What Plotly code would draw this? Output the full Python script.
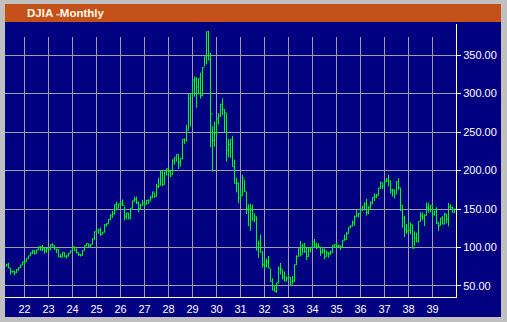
import plotly.graph_objects as go

# ---- data: DJIA monthly, April 1921 .. December 1939 ----
start_year = 1921
start_month = 4

highs = [
    # 1921 Apr-Dec
    78.9, 80.0, 73.5, 69.9, 69.9, 71.9, 73.9, 77.6, 81.5,
    # 1922
    82.9, 85.8, 89.1, 93.5, 96.4, 96.4, 96.9, 100.8, 102.0, 103.4, 99.5, 99.2,
    # 1923
    99.4, 103.9, 105.4, 102.9, 98.2, 97.7, 91.7, 93.7, 93.6, 90.4, 92.9, 95.5,
    # 1924
    100.7, 101.3, 98.9, 93.6, 91.4, 96.5, 102.6, 105.6, 105.0, 104.1, 111.4, 120.5,
    # 1925
    123.6, 122.9, 125.7, 120.0, 130.0, 131.0, 136.5, 143.2, 147.7, 155.7, 159.4, 157.0,
    # 1926
    158.9, 162.3, 153.1, 144.8, 145.0, 151.1, 160.6, 166.1, 166.1, 159.7, 156.6, 161.9,
    # 1927
    158.4, 161.9, 162.8, 167.4, 172.6, 171.0, 182.6, 190.6, 199.8, 199.8, 198.2, 202.4,
    # 1928
    203.4, 199.4, 214.5, 216.9, 220.9, 220.9, 216.0, 240.4, 241.7, 259.2, 299.4, 300.0,
    # 1929
    317.5, 322.1, 321.2, 319.3, 327.1, 333.8, 347.7, 380.3, 381.2, 352.9, 257.7, 263.5,
    # 1930
    267.1, 274.6, 286.1, 294.1, 279.9, 274.4, 240.6, 240.4, 245.1, 214.2, 190.6, 184.3,
    # 1931
    175.7, 194.4, 187.7, 172.4, 156.2, 156.9, 155.3, 144.2, 140.1, 108.9, 116.8, 94.8,
    # 1932
    85.9, 85.8, 89.0, 72.2, 60.0, 51.0, 54.3, 75.2, 79.9, 71.2, 68.9, 62.2,
    # 1933
    64.0, 61.6, 62.9, 77.7, 90.0, 98.9, 108.7, 105.1, 105.8, 100.0, 99.0, 101.0,
    # 1934
    108.2, 111.0, 106.3, 105.2, 100.7, 99.0, 99.0, 96.0, 94.0, 96.0, 103.0, 104.0,
    # 1935
    106.7, 103.3, 102.0, 109.5, 116.8, 120.0, 126.2, 128.9, 134.9, 141.5, 149.4, 145.0,
    # 1936
    149.5, 154.4, 158.8, 163.1, 153.3, 160.0, 164.9, 170.1, 169.7, 177.4, 185.5, 184.3,
    # 1937
    187.8, 190.3, 194.4, 187.0, 176.0, 175.0, 185.5, 190.0, 177.4, 154.6, 141.2, 130.6,
    # 1938
    134.9, 132.4, 129.6, 121.0, 119.3, 133.9, 146.3, 145.6, 143.1, 158.4, 158.1, 154.8,
    # 1939
    155.5, 147.3, 152.3, 133.3, 138.2, 140.9, 145.0, 144.0, 157.9, 155.9, 153.2, 150.2,
]

lows = [
    75.2, 73.4, 64.9, 67.3, 63.9, 66.8, 69.5, 73.4, 77.0,
    78.6, 81.7, 85.6, 88.9, 91.6, 90.7, 92.1, 96.1, 96.3, 96.1, 92.0, 93.0,
    96.0, 96.9, 101.0, 96.9, 92.8, 87.9, 86.9, 87.2, 87.9, 85.8, 88.4, 92.6,
    94.9, 96.0, 92.4, 88.9, 88.3, 89.2, 96.0, 101.5, 100.8, 99.2, 103.9, 110.0,
    119.5, 117.9, 115.0, 117.2, 119.5, 126.8, 130.0, 135.5, 138.5, 143.0, 148.2, 151.0,
    152.7, 154.0, 135.2, 136.4, 137.2, 137.2, 150.8, 159.0, 156.5, 145.7, 150.1, 154.2,
    152.7, 155.9, 156.4, 160.7, 164.2, 164.8, 166.1, 177.1, 180.4, 179.8, 181.7, 193.6,
    191.3, 191.3, 194.6, 207.9, 211.7, 201.9, 205.1, 214.4, 234.6, 237.4, 252.7, 257.3,
    296.0, 295.9, 281.5, 299.1, 293.4, 296.5, 335.2, 337.9, 343.5, 230.1, 198.7, 230.9,
    244.2, 259.8, 269.3, 272.2, 249.8, 211.8, 217.2, 216.3, 204.9, 183.4, 171.6, 157.5,
    161.5, 167.6, 172.4, 143.6, 128.5, 121.7, 135.4, 132.9, 96.6, 86.5, 93.9, 73.8,
    71.2, 74.0, 73.3, 55.9, 44.7, 42.8, 41.2, 53.2, 65.1, 58.5, 56.4, 56.2,
    59.2, 50.2, 52.5, 55.7, 77.3, 88.0, 88.4, 92.2, 93.0, 83.6, 88.1, 93.7,
    98.0, 99.7, 98.0, 99.0, 89.1, 92.1, 84.6, 88.0, 86.7, 90.0, 93.6, 99.6,
    99.5, 99.2, 96.7, 100.7, 108.7, 109.5, 118.1, 124.7, 127.2, 128.1, 139.7, 138.9,
    143.1, 147.4, 150.0, 141.5, 143.5, 150.2, 155.9, 160.5, 164.3, 167.7, 176.2, 175.9,
    179.2, 185.0, 179.3, 170.1, 166.2, 163.8, 169.7, 175.1, 147.3, 125.7, 113.6, 117.7,
    120.6, 117.1, 98.9, 102.0, 107.0, 106.4, 133.3, 135.4, 127.9, 141.6, 145.2, 145.4,
    136.1, 141.4, 130.6, 121.4, 128.5, 130.0, 130.0, 131.3, 127.5, 150.2, 145.7, 144.7,
]

closes = [
    77.6, 73.4, 68.5, 68.9, 67.1, 71.1, 73.9, 77.3, 81.1,
    81.3, 85.8, 89.1, 92.9, 96.4, 92.1, 96.8, 100.8, 96.6, 98.2, 95.8, 98.7,
    96.9, 103.9, 102.8, 98.0, 97.7, 87.9, 87.6, 93.5, 87.9, 88.7, 92.3, 95.5,
    100.7, 96.4, 93.3, 90.6, 89.9, 96.4, 102.6, 105.2, 103.0, 104.1, 111.4, 120.5,
    123.6, 122.9, 116.8, 120.0, 129.9, 131.0, 136.5, 141.2, 143.5, 155.7, 151.1, 156.7,
    157.0, 154.7, 140.5, 144.8, 137.2, 151.1, 160.6, 162.5, 158.2, 150.4, 154.6, 157.2,
    156.4, 161.1, 160.1, 164.6, 172.1, 166.2, 179.1, 180.8, 197.6, 181.7, 198.2, 202.4,
    198.6, 194.7, 213.5, 216.9, 220.9, 210.4, 216.0, 240.4, 239.4, 252.2, 293.4, 300.0,
    317.5, 317.4, 308.5, 319.3, 297.4, 333.8, 347.7, 380.3, 343.5, 273.5, 238.9, 248.5,
    267.1, 271.1, 286.1, 279.2, 275.1, 226.3, 233.9, 240.4, 204.9, 183.4, 183.4, 164.6,
    167.6, 189.7, 172.4, 151.2, 128.5, 150.2, 135.4, 139.4, 96.6, 105.4, 93.9, 77.9,
    76.2, 81.4, 73.3, 56.1, 44.7, 42.8, 54.3, 73.2, 71.6, 61.9, 56.4, 60.0,
    60.9, 51.4, 55.7, 77.7, 88.1, 98.1, 90.8, 102.4, 94.5, 88.2, 98.1, 99.9,
    107.2, 103.5, 101.9, 100.7, 93.8, 95.7, 88.1, 93.0, 92.6, 93.4, 102.9, 104.0,
    101.7, 102.7, 100.8, 109.5, 110.6, 118.2, 126.2, 127.9, 131.9, 139.7, 142.3, 144.1,
    149.5, 152.5, 156.3, 145.7, 152.6, 157.7, 164.9, 166.3, 167.8, 177.4, 184.0, 179.9,
    185.7, 187.2, 186.4, 174.3, 174.7, 169.3, 185.5, 177.4, 154.6, 138.6, 123.5, 121.0,
    121.9, 129.6, 98.9, 111.9, 107.7, 133.9, 141.2, 139.3, 141.5, 151.7, 149.8, 154.8,
    143.3, 147.3, 131.8, 128.5, 138.2, 130.6, 143.0, 136.6, 152.5, 151.9, 145.7, 150.2,
]

first_open = 76.0
opens = [first_open] + closes[:-1]   # each month opens at the prior month's close

year_ticks = list(range(1922, 1940))
year_labels = [str(y)[2:] for y in year_ticks]
price_ticks = [50, 100, 150, 200, 250, 300, 350]

# month positions on a fractional-year axis
xs = []
y, m = start_year, start_month
for _ in closes:
    xs.append(y + (m - 1) / 12.0)
    m += 1
    if m > 12:
        m = 1
        y += 1

# ---- layout geometry (pixels) ----
W, H = 507, 322
L, R, T, B = 5, 51, 24, 25
pw, ph = W - L - R, H - T - B
X0 = 1921.1875
X1 = X0 + pw / 24.0          # 24 px per year -> 2 px per month, bars on pixel centres

def px_x(px):
    return (px - L) / pw

def px_y(py):
    return (H - B - py) / ph

NAVY = "#000080"
GREEN = "#00ff00"
GRID = "#a0a0a0"
FRAME = "#c0c0c0"
TITLE_BG = "#c4501a"
FONT = "Liberation Sans, Arial, sans-serif"

fig = go.Figure()
fig.add_trace(go.Ohlc(
    x=xs, open=opens, high=highs, low=lows, close=closes,
    increasing=dict(line=dict(color=GREEN, width=1)),
    decreasing=dict(line=dict(color=GREEN, width=1)),
    tickwidth=0.5,
    hoverinfo="skip",
    showlegend=False,
))

shapes = [
    dict(type="rect", xref="paper", yref="paper", x0=px_x(5), x1=px_x(501),
         y0=px_y(317), y1=px_y(22), fillcolor=NAVY, line=dict(width=0), layer="below"),
    dict(type="rect", xref="paper", yref="paper", x0=px_x(5), x1=px_x(501),
         y0=px_y(22), y1=px_y(4), fillcolor=TITLE_BG, line=dict(width=0), layer="below"),
]
for yr in year_ticks:
    shapes.append(dict(type="line", xref="x", yref="paper", x0=yr, x1=yr,
                       y0=0, y1=px_y(37), line=dict(color=GRID, width=1), layer="below"))

fig.update_layout(
    width=W, height=H,
    margin=dict(l=L, r=R, t=T, b=B, pad=0),
    paper_bgcolor=FRAME,
    plot_bgcolor=NAVY,
    shapes=shapes,
    annotations=[dict(
        text="<b>DJIA -Monthly</b>", xref="paper", yref="paper",
        x=px_x(25), y=px_y(13.5), xanchor="left", yanchor="middle",
        showarrow=False, font=dict(family=FONT, size=11.5, color="#fffbe8"),
    )],
    xaxis=dict(
        range=[X0, X1],
        tickvals=year_ticks, ticktext=year_labels,
        showgrid=False, zeroline=False,
        showline=True, linecolor="white", linewidth=1,
        ticks="", ticklabelstandoff=2, rangeslider=dict(visible=False),
        tickfont=dict(family=FONT, size=11, color="white"),
        fixedrange=True,
    ),
    yaxis=dict(
        range=[35.7, 390.3], side="right",
        tickvals=price_ticks, tickformat=".2f",
        showgrid=True, gridcolor=GRID, gridwidth=1, zeroline=False,
        showline=True, linecolor="white", linewidth=1,
        ticks="outside", ticklen=4, tickcolor="white",
        tickfont=dict(family=FONT, size=11, color="white"),
        fixedrange=True,
    ),
)

fig.write_html("out.html")
